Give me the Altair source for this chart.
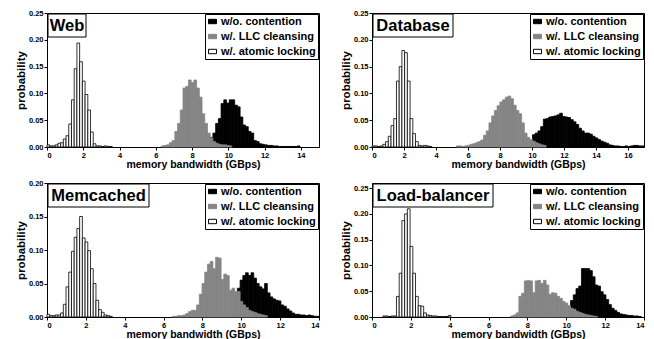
import altair as alt
import pandas as pd

SERIES = ["w/o. contention", "w/. LLC cleansing", "w/. atomic locking"]
FILLS = ["black", "#858585", "white"]
STROKES = ["black", "#858585", "black"]

PANEL_NAMES = ["Web", "Database", "Memcached", "Load-balancer"]
BIN_WIDTHS = [0.15, 0.17, 0.14, 0.14]
X_MAX = [15, 17, 14, 14]
X_TICKS = [[0, 2, 4, 6, 8, 10, 12, 14],
           [0, 2, 4, 6, 8, 10, 12, 14, 16],
           [0, 2, 4, 6, 8, 10, 12, 14],
           [0, 2, 4, 6, 8, 10, 12, 14]]
Y_MAX = [0.25, 0.25, 0.20, 0.26]
Y_TICKS = [[0, 0.05, 0.10, 0.15, 0.20, 0.25],
           [0, 0.05, 0.10, 0.15, 0.20, 0.25],
           [0, 0.05, 0.10, 0.15, 0.20],
           [0, 0.05, 0.10, 0.15, 0.20, 0.25]]
TITLE_BOX_W = [38, 80, 101, 120]

# --- Web (bin width 0.15) ---
web_wo_start = 58
web_wo = [0.004, 0.008, 0.018, 0.026, 0.044, 0.053, 0.081, 0.088, 0.082, 0.088,
          0.088, 0.078, 0.075, 0.056, 0.041, 0.038, 0.029, 0.026, 0.012, 0.010,
          0.006, 0.005, 0.004, 0.003, 0.003, 0.002, 0.002, 0.001, 0.001, 0.001,
          0.001, 0.001, 0.001, 0.001, 0.002]
web_llc_start = 42
web_llc = [0.002, 0.003, 0.004, 0.008, 0.012, 0.029, 0.044, 0.069, 0.110, 0.113,
           0.125, 0.120, 0.125, 0.110, 0.093, 0.062, 0.044, 0.026, 0.017, 0.010,
           0.007, 0.005, 0.004, 0.004, 0.003, 0.002]
web_atomic_start = 0
web_atomic = [0.004, 0.002, 0.002, 0.004, 0.007, 0.008, 0.015, 0.021, 0.043, 0.088,
              0.146, 0.194, 0.159, 0.123, 0.098, 0.069, 0.028, 0.006, 0.002, 0.002,
              0.001, 0.002, 0.001, 0.001]

# --- Database (bin width 0.17) ---
db_wo_start = 59
db_wo = [0.023, 0.026, 0.030, 0.038, 0.052, 0.053, 0.056, 0.057, 0.058, 0.060,
         0.063, 0.057, 0.056, 0.055, 0.051, 0.047, 0.042, 0.035, 0.030, 0.026,
         0.026, 0.024, 0.020, 0.017, 0.014, 0.011, 0.009, 0.007, 0.004, 0.003,
         0.002, 0.002, 0.001, 0.001, 0.002, 0.001, 0.002, 0.003, 0.003, 0.002, 0.002]
db_llc_start = 31
db_llc = [0.002, 0.002, 0.001, 0.002, 0.003, 0.005, 0.006, 0.008, 0.010, 0.013,
          0.022, 0.030, 0.045, 0.058, 0.068, 0.077, 0.084, 0.088, 0.093, 0.095,
          0.090, 0.078, 0.068, 0.062, 0.045, 0.026, 0.018, 0.014, 0.011, 0.008,
          0.006, 0.004, 0.003]
db_atomic_start = 0
db_atomic = [0.002, 0.002, 0.001, 0.002, 0.005, 0.010, 0.020, 0.040, 0.053, 0.123,
             0.150, 0.180, 0.176, 0.123, 0.053, 0.025, 0.010, 0.003, 0.002, 0.003,
             0.002, 0.001]

# --- Memcached (bin width 0.14) ---
mc_wo_start = 69
mc_wo = [0.030, 0.043, 0.055, 0.062, 0.066, 0.062, 0.066, 0.058, 0.050, 0.045,
         0.042, 0.050, 0.036, 0.030, 0.027, 0.025, 0.024, 0.018, 0.016, 0.012,
         0.009, 0.006, 0.004, 0.004, 0.003, 0.003, 0.002, 0.003, 0.002, 0.001, 0.001]
mc_llc_start = 46
mc_llc = [0.001, 0.001, 0.002, 0.002, 0.003, 0.005, 0.008, 0.010, 0.010, 0.018,
          0.034, 0.050, 0.067, 0.079, 0.083, 0.072, 0.089, 0.088, 0.056, 0.064,
          0.062, 0.040, 0.043, 0.038, 0.038, 0.023, 0.018, 0.014, 0.010, 0.008,
          0.007, 0.005, 0.004, 0.003, 0.002]
mc_atomic_start = 0
mc_atomic = [0.004, 0.002, 0.002, 0.003, 0.003, 0.006, 0.019, 0.045, 0.067, 0.098,
             0.119, 0.132, 0.150, 0.118, 0.112, 0.099, 0.072, 0.050, 0.025, 0.011,
             0.007, 0.003, 0.002, 0.001]

# --- Load-balancer (bin width 0.14) ---
lb_wo_start = 73
lb_wo = [0.032, 0.043, 0.055, 0.060, 0.094, 0.094, 0.094, 0.090, 0.078, 0.062,
         0.060, 0.049, 0.043, 0.034, 0.024, 0.017, 0.013, 0.009, 0.006, 0.005,
         0.004, 0.003, 0.003, 0.002, 0.002, 0.001]
lb_llc_start = 51
lb_llc = [0.002, 0.004, 0.008, 0.040, 0.046, 0.070, 0.071, 0.070, 0.047, 0.070,
          0.071, 0.065, 0.071, 0.062, 0.044, 0.047, 0.046, 0.040, 0.036, 0.030,
          0.027, 0.022, 0.017, 0.015, 0.011, 0.009, 0.007, 0.005, 0.004, 0.003,
          0.002, 0.001]
lb_atomic_start = 4
lb_atomic = [0.002, 0.002, 0.001, 0.002, 0.002, 0.040, 0.085, 0.187, 0.200, 0.210,
             0.137, 0.085, 0.040, 0.022, 0.021, 0.008, 0.004, 0.003, 0.002, 0.002,
             0.001, 0.001, 0.001, 0.001, 0.003]

PANEL_DATA = [
    [(web_wo_start, web_wo), (web_llc_start, web_llc), (web_atomic_start, web_atomic)],
    [(db_wo_start, db_wo), (db_llc_start, db_llc), (db_atomic_start, db_atomic)],
    [(mc_wo_start, mc_wo), (mc_llc_start, mc_llc), (mc_atomic_start, mc_atomic)],
    [(lb_wo_start, lb_wo), (lb_llc_start, lb_llc), (lb_atomic_start, lb_atomic)],
]

W, H = 272, 134
FONT = "Liberation Sans"


def make_df(bw, parts):
    rows = []
    for name, (start, vals) in zip(SERIES, parts):
        for k, v in enumerate(vals):
            i = start + k
            rows.append({"series": name, "x0": round(i * bw, 4),
                         "x1": round((i + 1) * bw, 4), "p": v})
    return pd.DataFrame(rows)


def panel(idx):
    df = make_df(BIN_WIDTHS[idx], PANEL_DATA[idx])
    xs = alt.Scale(domain=[0, X_MAX[idx]], nice=False, zero=False)
    ys = alt.Scale(domain=[0, Y_MAX[idx]], nice=False)
    bars = alt.Chart(df).mark_rect(strokeWidth=0.8).encode(
        x=alt.X("x0:Q", scale=xs,
                axis=alt.Axis(values=X_TICKS[idx], format="d",
                              title="memory bandwidth (GBps)", titleX=W / 2 + 10)),
        x2="x1:Q",
        y=alt.Y("p:Q", scale=ys,
                axis=alt.Axis(values=Y_TICKS[idx], format=".2f", title="probability")),
        y2=alt.datum(0),
        fill=alt.Fill("series:N", scale=alt.Scale(domain=SERIES, range=FILLS),
                      legend=alt.Legend(title=None)),
        stroke=alt.Stroke("series:N", scale=alt.Scale(domain=SERIES, range=STROKES),
                          legend=alt.Legend(title=None)),
    )
    tdf = pd.DataFrame({"name": [PANEL_NAMES[idx]]})
    bw = TITLE_BOX_W[idx]
    box = alt.Chart(tdf).mark_rect(fill="white", stroke="black", strokeWidth=1).encode(
        x=alt.value(1), x2=alt.value(1 + bw), y=alt.value(1), y2=alt.value(24))
    txt = alt.Chart(tdf).mark_text(font=FONT, fontSize=16.5, fontWeight="bold",
                                   align="center", baseline="middle", color="black").encode(
        x=alt.value(1 + bw / 2), y=alt.value(13), text="name:N")
    return alt.layer(bars, box, txt).properties(width=W, height=H)


def indep(c):
    return c.resolve_legend(fill="independent", stroke="independent").resolve_scale(
        fill="independent", stroke="independent")


top = indep(alt.hconcat(panel(0), panel(1), spacing=53, bounds="flush"))
bottom = indep(alt.hconcat(panel(2), panel(3), spacing=53, bounds="flush"))
chart = indep(alt.vconcat(top, bottom, spacing=7)).properties(
    padding={"left": 6, "top": 0, "right": 0, "bottom": 0}
).configure(font=FONT).configure_view(
    stroke="black", strokeWidth=1
).configure_axis(
    grid=False, domainColor="black", tickColor="black", labelColor="black",
    titleColor="black", labelFont=FONT, titleFont=FONT, labelFontWeight="bold",
    titleFontWeight="bold", labelFontSize=7.5, titleFontSize=10.5, tickSize=3,
    labelPadding=1, titlePadding=1
).configure_axisY(
    titleFontSize=11.5, titlePadding=2
).configure_legend(
    orient="top-right", offset=1, strokeColor="black", fillColor="white",
    padding=2, rowPadding=3, symbolType="M-1,-0.55H1V0.55H-1Z", symbolSize=64,
    symbolStrokeWidth=1, labelFont=FONT, labelFontSize=11, labelFontWeight="bold",
    labelColor="black", labelOffset=3, labelLimit=300, cornerRadius=0
)

chart.save("out.html", embed_options={"renderer": "svg", "actions": False})
